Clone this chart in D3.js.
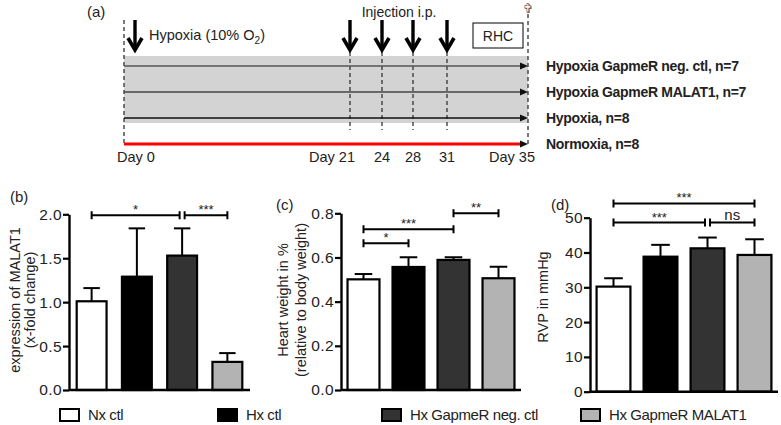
<!DOCTYPE html>
<html><head><meta charset="utf-8">
<script src="https://cdn.jsdelivr.net/npm/d3@7"></script>
<style>
body{margin:0;background:#fff}
svg{display:block;font-family:"Liberation Sans",Arial,sans-serif}
</style>
</head><body>
<svg id="chart" width="781" height="425"></svg>
<script>
// ---------- DATA ----------
const groups = ["Nx ctl", "Hx ctl", "Hx GapmeR neg. ctl", "Hx GapmeR MALAT1"];
const groupFills = ["#ffffff", "#000000", "#333333", "#b3b3b3"];

const malat1Mean = [1.01, 1.29, 1.53, 0.32];
const malat1Err  = [0.15, 0.55, 0.31, 0.10];
const malat1Ticks = [0, 0.5, 1.0, 1.5, 2.0];
const malat1Sig = [[0, 2, "*", 1.99], [2, 3, "***", 1.99]];

const heartMean = [0.501, 0.557, 0.589, 0.506];
const heartErr  = [0.024, 0.044, 0.012, 0.052];
const heartTicks = [0, 0.2, 0.4, 0.6, 0.8];
const heartSig = [[0, 1, "*", 0.664], [0, 2, "***", 0.728], [2, 3, "**", 0.80]];

const rvpMean = [30.2, 38.8, 41.2, 39.3];
const rvpErr  = [2.4, 3.4, 3.1, 4.5];
const rvpTicks = [0, 10, 20, 30, 40, 50];
const rvpSig = [[0, 3, "***", 54.1], [0, 2, "***", 48.6], [2, 3, "ns", 48.6]];

const days = [0, 21, 24, 28, 31, 35];
const dayLabels = ["Day 0", "Day 21", "24", "28", "31", "Day 35"];
const injectionDays = [21, 24, 28, 31];
const timelineGroups = ["Hypoxia GapmeR neg. ctl, n=7", "Hypoxia GapmeR MALAT1,  n=7", "Hypoxia, n=8", "Normoxia, n=8"];
const timelineLineColors = ["#555555", "#444444", "#111111", "#333333"];

// ---------- SETUP ----------
const svg = d3.select("#chart");

// ---------- PANEL (a) timeline ----------
const pa = svg.append("g");
const xDay = d3.scaleLinear().domain(days).range([124, 350, 382, 413, 447, 528]);
const yRow = d3.scalePoint().domain(timelineGroups).range([66, 144]);

pa.append("text").attr("x", 87).attr("y", 17).attr("font-size", 15).attr("fill", "#222").text("(a)");

pa.append("rect")
  .attr("x", xDay(0)).attr("y", 56)
  .attr("width", xDay(35) - xDay(0)).attr("height", 67)
  .attr("fill", "#d3d3d3");

pa.append("line").attr("x1", xDay(0)).attr("x2", xDay(0)).attr("y1", 20).attr("y2", 146)
  .attr("stroke", "#333").attr("stroke-width", 1.3).attr("stroke-dasharray", "4,3");
pa.append("line").attr("x1", xDay(35)).attr("x2", xDay(35)).attr("y1", 14).attr("y2", 146)
  .attr("stroke", "#333").attr("stroke-width", 1.3).attr("stroke-dasharray", "4,3");
pa.selectAll("line.inj").data(injectionDays).join("line").attr("class", "inj")
  .attr("x1", d => xDay(d)).attr("x2", d => xDay(d)).attr("y1", 52).attr("y2", 130)
  .attr("stroke", "#333").attr("stroke-width", 1.3).attr("stroke-dasharray", "4,3");

function bigArrow(x) {
  const g = pa.append("g");
  g.append("line").attr("x1", x).attr("x2", x).attr("y1", 20).attr("y2", 49)
    .attr("stroke", "#000").attr("stroke-width", 3.4);
  g.append("polyline").attr("points", `${x-7},38 ${x},50 ${x+7},38`)
    .attr("fill", "none").attr("stroke", "#000").attr("stroke-width", 3.6)
    .attr("stroke-linejoin", "miter");
}
bigArrow(xDay(0) + 11);
injectionDays.forEach(d => bigArrow(xDay(d)));

pa.append("text").attr("x", 149).attr("y", 40).attr("font-size", 14.5).attr("fill", "#222")
  .text("Hypoxia (10% O")
  .call(t => { t.append("tspan").attr("font-size", 10).attr("dy", 4).text("2");
               t.append("tspan").attr("dy", -4).text(")"); });

pa.append("text").attr("x", 399).attr("y", 17).attr("font-size", 14).attr("text-anchor", "middle")
  .attr("fill", "#222").text("Injection i.p.");

pa.append("rect").attr("x", 473).attr("y", 23).attr("width", 50).attr("height", 25)
  .attr("fill", "#fff").attr("stroke", "#000").attr("stroke-width", 1);
pa.append("text").attr("x", 498).attr("y", 41).attr("font-size", 14).attr("text-anchor", "middle")
  .attr("fill", "#222").text("RHC");

pa.append("text").attr("x", xDay(35)).attr("y", 13).attr("font-size", 13).attr("text-anchor", "middle")
  .attr("fill", "#666").attr("font-family", "DejaVu Sans").text("\u271E");

pa.selectAll("text.day").data(days).join("text").attr("class", "day")
  .attr("x", (d, i) => i === 0 ? xDay(d) - 7 : i === 1 ? xDay(d) + 5 : i === 5 ? xDay(d) + 7 : xDay(d))
  .attr("y", 162).attr("font-size", 14.5).attr("fill", "#222")
  .attr("text-anchor", (d, i) => i === 0 ? "start" : (i === 1 || i === 5) ? "end" : "middle")
  .text((d, i) => dayLabels[i]);

// timeline group lines
const tl = pa.append("g");
tl.selectAll("line").data(timelineGroups).join("line")
  .attr("x1", xDay(0)).attr("x2", xDay(35) - 5)
  .attr("y1", d => yRow(d)).attr("y2", d => yRow(d))
  .attr("stroke", (d, i) => i === 3 ? "red" : timelineLineColors[i]).attr("stroke-width", (d, i) => i === 3 ? 3 : 1.6);
tl.selectAll("path").data(timelineGroups).join("path")
  .attr("d", d => `M${xDay(35)-8},${yRow(d)-3.5} L${xDay(35)},${yRow(d)} L${xDay(35)-8},${yRow(d)+3.5} Z`)
  .attr("fill", "#111");
tl.selectAll("text").data(timelineGroups).join("text")
  .attr("x", 546).attr("y", d => yRow(d)).attr("dy", "0.35em")
  .attr("font-size", 14).attr("font-weight", "bold").attr("fill", "#222")
  .attr("letter-spacing", -0.3).text(d => d);

// ---------- BAR PANELS ----------
function barPanel(opts) {
  const g = svg.append("g");
  const x = d3.scaleBand().domain(groups).range(opts.xr).paddingInner(opts.pi).paddingOuter(opts.pi / 2);
  const y = d3.scaleLinear().domain([0, opts.ticks[opts.ticks.length - 1]]).range(opts.yr);

  g.selectAll("rect.bar").data(opts.mean).join("rect").attr("class", "bar")
    .attr("x", (d, i) => x(groups[i])).attr("width", x.bandwidth())
    .attr("y", d => y(d)).attr("height", d => y(0) - y(d))
    .attr("fill", (d, i) => groupFills[i]).attr("stroke", "#000").attr("stroke-width", 2.2);

  const cap = x.bandwidth() * 0.55;
  opts.mean.forEach((m, i) => {
    const cx = x(groups[i]) + x.bandwidth() / 2;
    g.append("line").attr("x1", cx).attr("x2", cx).attr("y1", y(m)).attr("y2", y(m + opts.err[i]))
      .attr("stroke", "#000").attr("stroke-width", 2);
    g.append("line").attr("x1", cx - cap / 2).attr("x2", cx + cap / 2)
      .attr("y1", y(m + opts.err[i])).attr("y2", y(m + opts.err[i]))
      .attr("stroke", "#000").attr("stroke-width", 2);
  });

  const ya = g.append("g").attr("transform", `translate(${opts.xr[0]},0)`)
    .call(d3.axisLeft(y).tickValues(opts.ticks).tickFormat(d3.format(opts.fmt)).tickSize(6).tickSizeOuter(0).tickPadding(1));
  ya.select(".domain").attr("stroke-width", 2.4);
  ya.selectAll(".tick line").attr("stroke-width", 2.2);
  ya.selectAll(".tick text").attr("font-size", 15.5).attr("fill", "#222").attr("letter-spacing", 0.4)
    .attr("font-family", "Liberation Sans, Arial, sans-serif");
  const xa = g.append("g").attr("transform", `translate(0,${y(0)})`)
    .call(d3.axisBottom(x).tickSize(0).tickSizeOuter(0).tickFormat(""));
  xa.select(".domain").attr("stroke-width", 2.4).attr("d", `M${opts.xr[0]},0H${opts.xr[1]}`);

  const cxOf = i => x(groups[i]) + x.bandwidth() / 2;
  opts.sig.forEach(([a, b, label, lv]) => {
    let x1 = cxOf(a), x2 = cxOf(b);
    opts.sig.forEach(([a2, b2, l2, lv2]) => {
      if (lv2 === lv && b2 === a && a2 !== a) x1 += 2.5;
      if (lv2 === lv && a2 === b && b2 !== b) x2 -= 2.5;
    });
    const yy = y(lv);
    g.append("path").attr("d", `M${x1},${yy-4}V${yy+4}M${x1},${yy}H${x2}M${x2},${yy-4}V${yy+4}`)
      .attr("fill", "none").attr("stroke", "#000").attr("stroke-width", 2);
    g.append("text").attr("x", (x1 + x2) / 2).attr("y", label === "ns" ? yy - 2.5 : yy - 1)
      .attr("text-anchor", "middle").attr("font-size", label === "ns" ? 15 : 13).attr("fill", "#222").text(label);
  });

  g.append("text").attr("x", opts.labelPos[0]).attr("y", opts.labelPos[1]).attr("font-size", 15)
    .attr("fill", "#222").text(opts.label);
  opts.title.forEach((t, k) => {
    g.append("text").attr("transform", `translate(${opts.titleX[k]},${opts.titleY}) rotate(-90)`)
      .attr("text-anchor", "middle").attr("dominant-baseline", "central")
      .attr("font-size", 14.5).attr("fill", "#222").text(t);
  });
}

barPanel({ xr: [69, 250], yr: [390, 214.3], pi: 0.34, ticks: malat1Ticks, fmt: ".1f",
  mean: malat1Mean, err: malat1Err, sig: malat1Sig, label: "(b)", labelPos: [10, 202],
  title: ["expression of MALAT1", "(x-fold change)"], titleX: [15, 30], titleY: 300 });

barPanel({ xr: [341, 521], yr: [390, 213.3], pi: 0.29, ticks: heartTicks, fmt: ".1f",
  mean: heartMean, err: heartErr, sig: heartSig, label: "(c)", labelPos: [276, 210],
  title: ["Heart weight in %", "(relative to body weight)"], titleX: [283, 301], titleY: 300 });

barPanel({ xr: [590, 778], yr: [391.7, 217.7], pi: 0.28, ticks: rvpTicks, fmt: "d",
  mean: rvpMean, err: rvpErr, sig: rvpSig, label: "(d)", labelPos: [551, 210],
  title: ["RVP in mmHg"], titleX: [543], titleY: 297 });

// ---------- LEGEND ----------
const legendX = [60, 218, 382, 581];
const lg = svg.append("g");
lg.selectAll("rect").data(groups).join("rect")
  .attr("x", (d, i) => legendX[i]).attr("y", 409).attr("width", 19).attr("height", 12)
  .attr("fill", (d, i) => groupFills[i]).attr("stroke", "#000").attr("stroke-width", 2);
lg.selectAll("text").data(groups).join("text")
  .attr("x", (d, i) => legendX[i] + 28).attr("y", 415).attr("dy", "0.35em")
  .attr("font-size", 15).attr("fill", "#222").attr("letter-spacing", -0.4).text(d => d);
</script>
</body></html>
